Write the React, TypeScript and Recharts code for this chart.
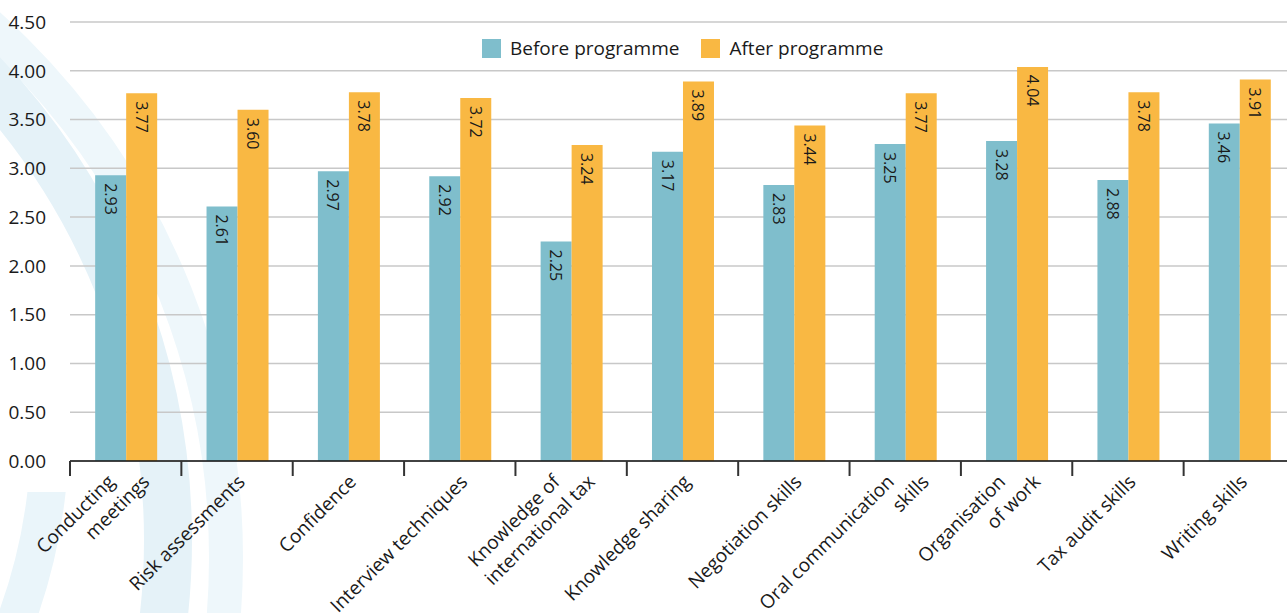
import { Bar, BarChart, CartesianGrid, LabelList, XAxis, YAxis } from "recharts";

const categories = [
  "Conducting\nmeetings",
  "Risk assessments",
  "Confidence",
  "Interview techniques",
  "Knowledge of\ninternational tax",
  "Knowledge sharing",
  "Negotiation skills",
  "Oral communication\nskills",
  "Organisation\nof work",
  "Tax audit skills",
  "Writing skills",
];
const beforeValues = [2.93, 2.61, 2.97, 2.92, 2.25, 3.17, 2.83, 3.25, 3.28, 2.88, 3.46];
const afterValues = [3.77, 3.6, 3.78, 3.72, 3.24, 3.89, 3.44, 3.77, 4.04, 3.78, 3.91];
const yTicks = [0, 0.5, 1, 1.5, 2, 2.5, 3, 3.5, 4, 4.5];

const data = categories.map((name, i) => ({
  name,
  before: beforeValues[i],
  after: afterValues[i],
}));

const BLUE = "#7fbecc";
const ORANGE = "#f9b843";
const FONT = "'Open Sans', 'Noto Sans', sans-serif";

const CHART_W = 1300;
const CHART_H = 613;
const Y_W = 70;
const RIGHT = 5;
const HALF_BAND = (CHART_W - Y_W - RIGHT) / categories.length / 2;

function CategoryTick(props: any) {
  const { x, y, payload } = props;
  const lines = String(payload.value).split("\n");
  const ty = y + 22;
  return (
    <g>
      <line x1={x - HALF_BAND} y1={y} x2={x - HALF_BAND} y2={y + 15} stroke="#333" strokeWidth={2} />
      {lines.length === 1 ? (
        <text
          x={x + 9}
          y={ty}
          textAnchor="end"
          fontSize={19}
          fill="#1a1a1a"
          fontFamily={FONT}
          transform={`rotate(-45, ${x + 9}, ${ty})`}
        >
          {lines[0]}
        </text>
      ) : (
        lines.map((line, i) => {
          const lx = x + (i === 0 ? -10 : 25);
          return (
            <text
              key={i}
              x={lx}
              y={ty}
              textAnchor="end"
              fontSize={19}
              fill="#1a1a1a"
              fontFamily={FONT}
              transform={`rotate(-45, ${lx}, ${ty})`}
            >
              {line}
            </text>
          );
        })
      )}
    </g>
  );
}

function BarValue(props: any) {
  const { x, y, width, value } = props;
  const cx = x + width / 2;
  const ty = y + 8;
  return (
    <text
      x={cx}
      y={ty}
      textAnchor="start"
      dominantBaseline="central"
      fontSize={16}
      fill="#1a1a1a"
      fontFamily={FONT}
      transform={`rotate(90, ${cx}, ${ty})`}
    >
      {Number(value).toFixed(2)}
    </text>
  );
}

function LegendBox() {
  const item = (color: string, label: string) => (
    <div style={{ display: "flex", alignItems: "center", marginRight: 22 }}>
      <div style={{ width: 19, height: 19, background: color, marginRight: 9 }} />
      <span style={{ fontSize: 19, lineHeight: "22px", color: "#1a1a1a", fontFamily: FONT }}>{label}</span>
    </div>
  );
  return (
    <div style={{ position: "absolute", left: 482, top: 37, display: "flex", alignItems: "center" }}>
      {item(BLUE, "Before programme")}
      {item(ORANGE, "After programme")}
    </div>
  );
}

// faint watermark arcs behind the chart
function Arcs() {
  return (
    <svg width={1287} height={613} style={{ position: "absolute", left: 0, top: 0 }}>
      <defs>
        <clipPath id="lowClip">
          <rect x={0} y={492} width={300} height={130} />
        </clipPath>
      </defs>
      <circle cx={-491} cy={558} r={717} fill="none" stroke="#eef7fb" strokeWidth={34} />
      <circle cx={-511} cy={540} r={679} fill="none" stroke="#e5f2f8" strokeWidth={48} />
      <circle cx={-500} cy={430} r={550} fill="none" stroke="#eaf5fa" strokeWidth={38} clipPath="url(#lowClip)" />
    </svg>
  );
}

export default function App() {
  return (
    <div
      style={{
        position: "absolute",
        left: 0,
        top: 0,
        width: 1287,
        height: 613,
        overflow: "hidden",
        background: "#ffffff",
      }}
    >
      <Arcs />
      <div style={{ position: "absolute", left: 0, top: 0 }}>
        <BarChart
          width={CHART_W}
          height={CHART_H}
          data={data}
          margin={{ top: 22, right: RIGHT, left: 0, bottom: 0 }}
          barCategoryGap="22.6%"
          barGap={0}
        >
          <CartesianGrid vertical={false} stroke="#c8c8c8" strokeWidth={1.5} />
          <XAxis
            dataKey="name"
            interval={0}
            height={152}
            tickLine={false}
            tickSize={0}
            tickMargin={0}
            axisLine={{ stroke: "#111", strokeWidth: 1.5 }}
            tick={<CategoryTick />}
          />
          <YAxis
            width={Y_W}
            domain={[0, 4.5]}
            ticks={yTicks}
            axisLine={false}
            tickLine={false}
            tickSize={0}
            tickMargin={24}
            tickFormatter={(v: number) => v.toFixed(2)}
            tick={{ fontSize: 19, fill: "#1a1a1a", fontFamily: FONT }}
          />
          <Bar dataKey="before" name="Before programme" fill={BLUE} isAnimationActive={false}>
            <LabelList dataKey="before" content={<BarValue />} />
          </Bar>
          <Bar dataKey="after" name="After programme" fill={ORANGE} isAnimationActive={false}>
            <LabelList dataKey="after" content={<BarValue />} />
          </Bar>
        </BarChart>
      </div>
      <LegendBox />
    </div>
  );
}
